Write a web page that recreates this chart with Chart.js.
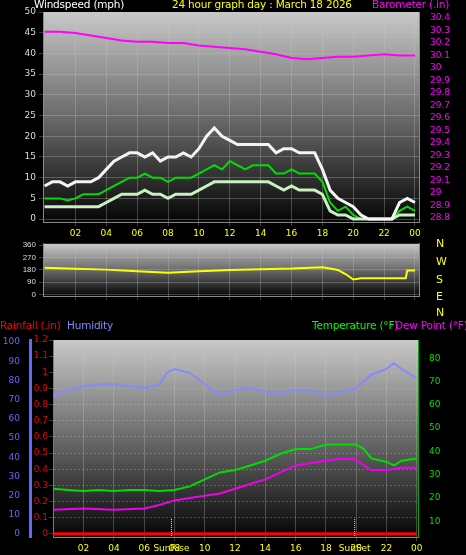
<!DOCTYPE html>
<html><head><meta charset="utf-8">
<script src="https://cdn.jsdelivr.net/npm/chart.js@4"></script>
<style>
body{margin:0;background:#000;width:466px;height:555px;overflow:hidden;position:relative;font-family:"DejaVu Sans",sans-serif}
.c{position:absolute;left:0;width:466px}
.t{position:absolute;font-size:10.5px;white-space:nowrap;letter-spacing:-0.2px}
.d{position:absolute;left:436px;font-size:11px;color:#ff0}
</style></head><body>
<div class="c" style="top:0;height:240px"><canvas id="c1"></canvas></div>
<div class="c" style="top:236px;height:72px"><canvas id="c2"></canvas></div>
<div class="c" style="top:318px;height:237px"><canvas id="c3"></canvas></div>
<div class="t" style="left:34px;top:-2px;color:#fff">Windspeed (mph)</div>
<div class="t" style="left:172px;top:-2px;color:#ff0">24 hour graph day : March 18 2026</div>
<div class="t" style="left:372px;top:-2px;color:#f0f">Barometer (.in)</div>
<div class="d" style="top:237px">N</div>
<div class="d" style="top:255px">W</div>
<div class="d" style="top:273px">S</div>
<div class="d" style="top:290px">E</div>
<div class="d" style="top:306px">N</div>
<div class="t" style="left:0;top:319px;color:#f00">Rainfall (.in)</div>
<div class="t" style="left:67px;top:319px;color:#88f">Humidity</div>
<div class="t" style="left:312px;top:319px;color:#0f0">Temperature (°F)</div>
<div class="t" style="left:395px;top:319px;color:#f0f">Dew Point (°F)</div>
<script>
const windTimes=[0,0.5,1,1.5,2,2.5,3,3.5,4,4.5,5,5.5,6,6.5,7,7.5,8,8.5,9,9.5,10,10.5,11,11.5,12,12.5,13,13.5,14,14.5,15,15.5,16,16.5,17,17.5,18,18.5,19,19.5,20,20.5,21,21.5,22,22.5,23,23.5,24];
const windGust=[8,9,9,8,9,9,9,10,12,14,15,16,16,15,16,14,15,15,16,15,17,20,22,20,19,18,18,18,18,18,16,17,17,16,16,16,12,7,5,4,3,1,0,0,0,0,4,5,4];
const windAvg=[5,5,5,4.5,5,6,6,6,7,8,9,10,10,11,10,10,9,10,10,10,11,12,13,12,14,13,12,13,13,13,11,11,12,11,11,11,9,4,2,3,1,0,0,0,0,0,2,3,2];
const windLull=[3,3,3,3,3,3,3,3,4,5,6,6,6,7,6,6,5,6,6,6,7,8,9,9,9,9,9,9,9,9,8,7,8,7,7,7,6,2,1,1,0,0,0,0,0,0,1,1,1];
const baroTimes=[0,1,2,3,4,5,6,7,8,9,10,11,12,13,14,15,16,17,18,19,20,21,22,23,24];
const baro=[30.29,30.29,30.28,30.26,30.24,30.22,30.21,30.21,30.2,30.2,30.18,30.17,30.16,30.15,30.13,30.11,30.08,30.07,30.08,30.09,30.09,30.1,30.11,30.1,30.1];
const dirTimes=[0,2,4,6,8,10,12,14,16,18,18.5,19,19.5,20,20.5,21,22,23,23.4,23.5,24];
const windDir=[195,188,182,170,160,170,180,185,190,200,190,180,150,110,120,120,120,120,120,175,175];
const humTimes=[0,1,2,3,4,5,6,7,7.5,8,9,10,11,12,13,14,15,16,17,18,19,20,21,22,22.5,23,24];
const humidity=[72,75,77,78,78,77,76,78,84,86,84,78,72,75,76,74,73,75,75,72,74,76,83,86,89,86,81];
const tempTimes=[0,1,2,3,4,5,6,7,8,9,10,11,12,13,14,15,16,17,18,19,20,20.5,21,22,22.5,23,24];
const temperature=[24,23.5,23,23.5,23,23.5,23.5,23,23.5,25,28,31,32,34,36,39,41,41,43,43,43,41,37,35.5,34,36,37];
const dewTimes=[0,2,4,6,7,8,9,10,11,12,13,14,15,16,17,18,19,20,20.5,21,22,23,24];
const dewPoint=[15,15.5,15,15.5,17,19,20,21,22,24,26,28,31,34,35,36,37,36.5,34,32,32,33,33];
const rainTimes=[0,24];
const rainfall=[0,0];
const hourTicks=[2,4,6,8,10,12,14,16,18,20,22,24];

const pts=(xs,ys)=>xs.map((x,i)=>({x,y:ys[i]}));
const bg={id:'bg',beforeDraw(ch){const a=ch.chartArea,c=ch.ctx;const g=c.createLinearGradient(0,a.top,0,a.bottom);g.addColorStop(0,'#c8c8c8');g.addColorStop(0.5,'#6a6a6a');g.addColorStop(1,'#050505');c.save();c.fillStyle=g;c.fillRect(a.left,a.top,a.right-a.left,a.bottom-a.top);c.restore();}};
const grid={color:'rgba(200,200,200,0.3)',borderDash:[1,2],drawTicks:true,tickLength:4};
const tickFont={size:9,family:'DejaVu Sans'};
function fitW(w){return function(s){s.width=w;};}
function fitH(h){return function(s){s.height=h;};}
const xAxis=(min,max,show)=>({type:'linear',min,max,afterBuildTicks:s=>{s.ticks=hourTicks.map(v=>({value:v}));},afterFit:fitH(show?18:0),
  ticks:{display:show,autoSkip:false,maxRotation:0,color:'#ff0',font:tickFont,padding:2,callback:v=>String(v%24).padStart(2,'0')},grid:grid,border:{color:'#888'}});
const base={responsive:false,animation:false,maintainAspectRatio:false,plugins:{legend:{display:false},tooltip:{enabled:false}},elements:{point:{radius:0},line:{tension:0}}};

function mk(id,h,cfg){const cv=document.getElementById(id);cv.width=466;cv.height=h;return new Chart(cv,cfg);}

mk('c1',240,{type:'line',plugins:[bg],data:{datasets:[
 {data:pts(baroTimes,baro),yAxisID:'yb',borderColor:'#ff00ff',borderWidth:2},
 {data:pts(windTimes,windGust),yAxisID:'y',borderColor:'#f4f4f4',borderWidth:3},
 {data:pts(windTimes,windLull),yAxisID:'y',borderColor:'#c8f0c0',borderWidth:3},
 {data:pts(windTimes,windAvg),yAxisID:'y',borderColor:'#00dd00',borderWidth:2}]},
 options:{...base,layout:{padding:{top:12,left:0,right:0,bottom:0}},scales:{
  x:xAxis(-0.1,24.26,true),
  y:{position:'left',min:-0.7,max:50,afterBuildTicks:s=>{s.ticks=[0,5,10,15,20,25,30,35,40,45,50].map(v=>({value:v}));},afterFit:fitW(43),ticks:{autoSkip:false,color:'#ddd',font:tickFont,padding:3},grid:grid,border:{color:'#888'}},
  yb:{position:'right',min:28.768,max:30.448,afterBuildTicks:s=>{const t=[];for(let i=0;i<=16;i++)t.push({value:+(28.8+i*0.1).toFixed(1)});s.ticks=t;},afterFit:fitW(47),ticks:{autoSkip:false,color:'#f0f',font:tickFont,padding:3,callback:v=>+v.toFixed(1)},grid:{display:false},border:{color:'#888'}}}}});

mk('c2',72,{type:'line',plugins:[bg],data:{datasets:[
 {data:pts(dirTimes,windDir),yAxisID:'y',borderColor:'#ffff00',borderWidth:2},
 {data:[],yAxisID:'yr'}]},
 options:{...base,layout:{padding:{top:5,bottom:12}},scales:{
  x:xAxis(-0.1,24.26,false),
  y:{position:'left',min:-10,max:370,afterBuildTicks:s=>{s.ticks=[0,90,180,270,360].map(v=>({value:v}));},afterFit:fitW(43),ticks:{autoSkip:false,color:'#ddd',font:{size:8},padding:3},grid:grid,border:{color:'#888'}},
  yr:{position:'right',min:-10,max:370,afterBuildTicks:s=>{s.ticks=[0,90,180,270,360].map(v=>({value:v}));},afterFit:fitW(47),ticks:{display:false},grid:{display:false},border:{color:'#888'}}}}});

const sunPlug={id:'sun',afterDatasetsDraw(ch){const c=ch.ctx,x=ch.scales.x,a=ch.chartArea;c.save();c.strokeStyle='#ff0';c.setLineDash([1,1]);c.fillStyle='#ff0';c.font='9px DejaVu Sans';c.textAlign='center';
 [[7.8,'SunRise'],[19.9,'SunSet']].forEach(([h,t])=>{const px=x.getPixelForValue(h);c.beginPath();c.moveTo(px,a.bottom-18);c.lineTo(px,a.bottom);c.stroke();c.fillText(t,px,a.bottom+14);});c.restore();}};

mk('c3',237,{type:'line',plugins:[bg,sunPlug],data:{datasets:[
 {data:pts(humTimes,humidity),yAxisID:'yh',borderColor:'#8888ff',borderWidth:2},
 {data:pts(tempTimes,temperature),yAxisID:'yt',borderColor:'#00dd00',borderWidth:2},
 {data:pts(dewTimes,dewPoint),yAxisID:'yt',borderColor:'#ee00ee',borderWidth:2},
 {data:pts(rainTimes,rainfall),yAxisID:'yr',borderColor:'#ff0000',borderWidth:3}]},
 options:{...base,layout:{padding:{top:22}},scales:{
  x:xAxis(-0.02,24.08,true),
  yr:{position:'left',min:-0.02,max:1.2,afterBuildTicks:s=>{const t=[];for(let i=0;i<=12;i++)t.push({value:+(i*0.1).toFixed(1)});s.ticks=t;},afterFit:fitW(23),ticks:{autoSkip:false,color:'#e00',font:tickFont,padding:1,callback:v=>+v.toFixed(1)},grid:grid,border:{color:'#f44',dash:[2,2]}},
  yh:{position:'left',min:-1.6,max:101.1,afterBuildTicks:s=>{s.ticks=[0,10,20,30,40,50,60,70,80,90,100].map(v=>({value:v}));},afterFit:fitW(30),ticks:{autoSkip:false,color:'#66f',font:tickFont,padding:2},grid:{display:false,drawTicks:true},border:{color:'#66f',width:3}},
  yt:{position:'right',min:3.3,max:87.8,afterBuildTicks:s=>{s.ticks=[10,20,30,40,50,60,70,80].map(v=>({value:v}));},afterFit:fitW(48),ticks:{autoSkip:false,color:'#0d0',font:tickFont,padding:3},grid:{display:false},border:{color:'#0a0'}}}}});
</script></body></html>
